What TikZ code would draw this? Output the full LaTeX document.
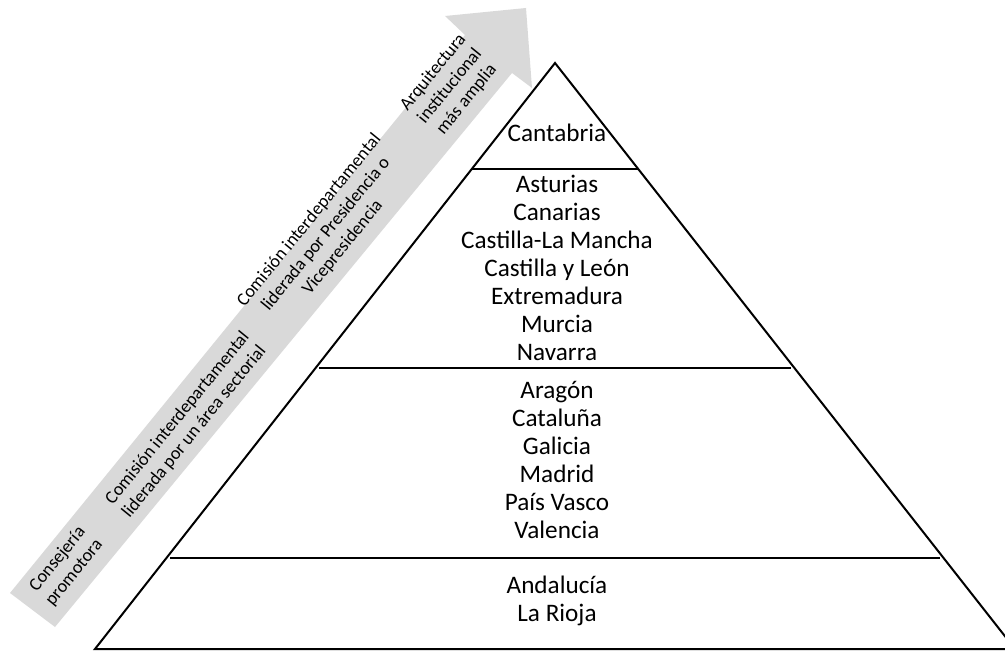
\documentclass[tikz,border=0pt]{standalone}
\usepackage{fontspec}
\setmainfont{Carlito}
\definecolor{arrowgray}{RGB}{217,217,217}
\tikzset{
  tier/.style={align=center,font=\fontsize{12.6}{14}\selectfont},
  stage/.style={align=center,rotate=50.8,font=\fontsize{9.1}{10.8}\selectfont},
  level/.style={line width=1pt}
}

\begin{document}
\begin{tikzpicture}[x=0.5pt,y=-0.5pt]
\clip (0,0) rectangle (1005,651);
\fill [arrowgray] (10,593) -- (55,627) -- (512,73) -- (532,88) -- (526,8) -- (445,16) -- (465,35) -- cycle;
\node (s1) [stage] at (66,566) {Consejería\\promotora};
\node (s2) [stage] at (186,425) {Comisión interdepartamental\\liderada por un área sectorial};
\node (s3) [stage] at (326,234) {Comisión interdepartamental\\liderada por Presidencia o\\Vicepresidencia};
\node (s4) [stage] at (450,86) {Arquitectura\\institucional\\más amplia};
\coordinate (top) at (555,63);
\coordinate (bl) at (95,649);
\coordinate (br) at (1015,649);
\draw [level,fill=white] (top) -- (bl) -- (br) -- cycle;
\coordinate (a1) at (472,169);
\coordinate (a2) at (638,169);
\coordinate (b1) at (319,368);
\coordinate (b2) at (791,368);
\coordinate (c1) at (170,558);
\coordinate (c2) at (940,558);
\draw [level] (a1) -- (a2);
\draw [level] (b1) -- (b2);
\draw [level] (c1) -- (c2);
\node (t1) [tier] at (557,133) {Cantabria};
\node (t2) [tier] at (557,268) {Asturias\\Canarias\\Castilla-La Mancha\\Castilla y León\\Extremadura\\Murcia\\Navarra};
\node (t3) [tier] at (557,460) {Aragón\\Cataluña\\Galicia\\Madrid\\País Vasco\\Valencia};
\node (t4) [tier] at (557,601) {Andalucía\\La Rioja};
\end{tikzpicture}
\end{document}
